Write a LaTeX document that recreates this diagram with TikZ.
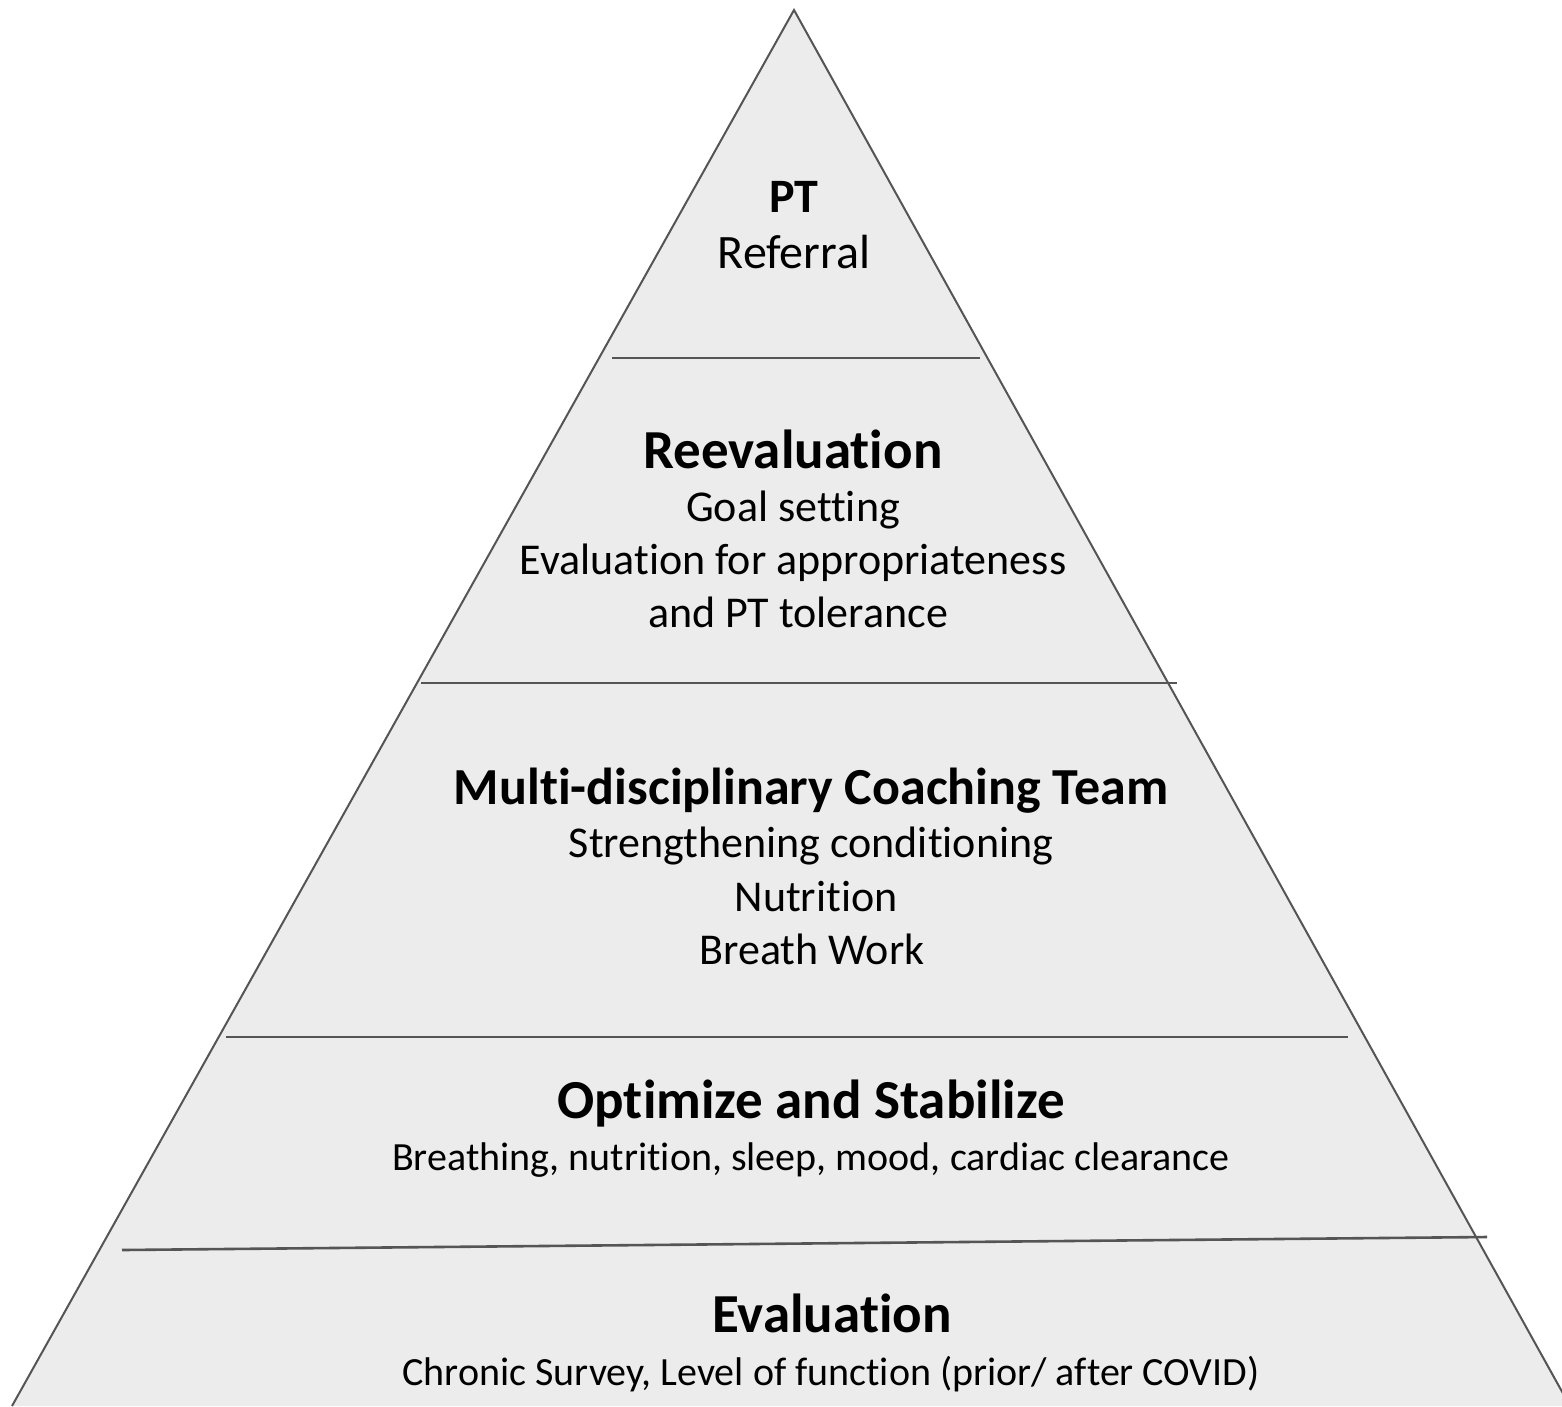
\documentclass[tikz,border=0pt]{standalone}
\usepackage{fontspec}
\setmainfont{Carlito}[RawFeature=-liga]
\definecolor{pyrfill}{HTML}{ECECEC}
\definecolor{pyrline}{HTML}{555555}
\tikzset{
  title/.style={anchor=base, inner sep=0pt, font=\fontsize{55}{66}\selectfont\bfseries},
  smalltitle/.style={anchor=base, inner sep=0pt, font=\fontsize{48}{58}\selectfont\bfseries},
  body/.style={anchor=base, inner sep=0pt, font=\fontsize{44}{53}\selectfont},
  edge/.style={draw=pyrline, line width=2pt},
  divider/.style={draw=pyrline, line width=2.6pt}
}
\begin{document}
\begin{tikzpicture}[x=1pt,y=-1pt]
\useasboundingbox (0,0) rectangle (1562,1406);
\clip (0,0) rectangle (1562,1406);
\coordinate (apex) at (794,10);
\coordinate (bl) at (12,1406);
\coordinate (br) at (1570,1406);
\fill[pyrfill] (apex) -- (bl) -- (br) -- cycle;
\draw[edge, line join=miter] (bl) -- (apex) -- (br);
% dividers
\coordinate (d1l) at (612,358);  \coordinate (d1r) at (980,358);
\coordinate (d2l) at (421,683);  \coordinate (d2r) at (1177,683);
\coordinate (d3l) at (226,1037); \coordinate (d3r) at (1348,1037);
\coordinate (d4l) at (122,1250); \coordinate (d4r) at (1487,1237);
\draw[divider] (d1l) -- (d1r);
\draw[divider] (d2l) -- (d2r);
\draw[divider] (d3l) -- (d3r);
\draw[divider] (d4l) -- (d4r);
% tier 1
\node[smalltitle] (pt) at (794,212) {PT};
\node[body, font=\fontsize{48}{58}\selectfont] (ref) at (794,268) {Referral};
% tier 2
\node[title] (reev) at (793,468) {Reevaluation};
\node[body] (goal) at (793,521) {Goal setting};
\node[body] (evalapp) at (793,574) {Evaluation for appropriateness};
\node[body] (ptt) at (798,627) {and PT tolerance};
% tier 3
\node[title, font=\fontsize{52}{62}\selectfont\bfseries] (multi) at (811,804) {Multi-disciplinary Coaching Team};
\node[body] (streng) at (811,857) {Strengthening conditioning};
\node[body] (nutr) at (816,911) {Nutrition};
\node[body] (breath) at (812,964) {Breath Work};
% tier 4
\node[title] (opt) at (811,1118) {Optimize and Stabilize};
\node[body, font=\fontsize{40}{48}\selectfont] (breathing) at (811,1170) {Breathing, nutrition, sleep, mood, cardiac clearance};
% tier 5
\node[title] (evalt) at (832,1332) {Evaluation};
\node[body, font=\fontsize{40}{48}\selectfont] (chronic) at (831,1385) {Chronic Survey, Level of function (prior/ after COVID)};
\end{tikzpicture}
\end{document}
